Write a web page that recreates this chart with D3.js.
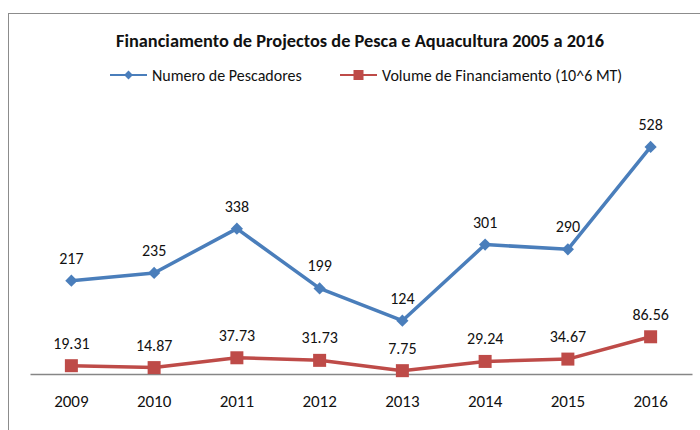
<!DOCTYPE html>
<html>
<head>
<meta charset="utf-8">
<script src="https://cdn.jsdelivr.net/npm/d3@7"></script>
<style>
  body { margin: 0; background: #fff; }
  text { font-family: Carlito, Calibri, "Open Sans", sans-serif; }
</style>
</head>
<body>
<div id="chart"></div>
<script>
var years = ["2009", "2010", "2011", "2012", "2013", "2014", "2015", "2016"];
var pescadores = [217, 235, 338, 199, 124, 301, 290, 528];
var financiamento = [19.31, 14.87, 37.73, 31.73, 7.75, 29.24, 34.67, 86.56];
var seriesNames = ["Numero de Pescadores", "Volume de Financiamento (10^6 MT)"];

var width = 700, height = 430;
var margin = {top: 116, right: 8, bottom: 56, left: 30};

var svg = d3.select("#chart").append("svg")
    .attr("width", width)
    .attr("height", height);

// outer frame
svg.append("rect")
    .attr("x", 8.5).attr("y", 13.5)
    .attr("width", 720).attr("height", 450)
    .attr("fill", "none")
    .attr("stroke", "#8c8c8c")
    .attr("stroke-width", 1);

var x = d3.scaleBand().domain(years).range([margin.left, width - margin.right]),
    y = d3.scaleLinear().domain([0, 600]).range([height - margin.bottom, margin.top]);

var cx = function (d, i) { return x(years[i]) + x.bandwidth() / 2; };

svg.append("text")
    .attr("x", 360).attr("y", 47)
    .attr("text-anchor", "middle")
    .attr("textLength", 488)
    .attr("lengthAdjust", "spacingAndGlyphs")
    .style("font-size", "19px")
    .style("font-weight", "bold")
    .attr("fill", "#111")
    .text("Financiamento de Projectos de Pesca e Aquacultura 2005  a 2016");

// axis
var xAxis = svg.append("g")
    .attr("transform", "translate(0," + y(0) + ")")
    .call(d3.axisBottom(x).tickSize(0).tickPadding(21));
xAxis.select(".domain").attr("stroke", "#868686").attr("stroke-width", 1.5);
xAxis.selectAll("text")
    .style("font-size", "17px")
    .style("font-family", "Carlito, Calibri, 'Open Sans', sans-serif")
    .attr("fill", "#111");

var series = [
    {name: seriesNames[0], values: pescadores, color: "#4a7ebb", marker: "diamond", fmt: d3.format("d")},
    {name: seriesNames[1], values: financiamento, color: "#be4b48", marker: "square", fmt: d3.format(".2f")}
];

var line = d3.line()
    .x(cx)
    .y(function (d) { return y(d); });

function marker(g, s, px, py) {
    if (s.marker === "diamond") {
        g.append("path")
            .attr("d", d3.symbol().type(d3.symbolDiamond2).size(95)())
            .attr("transform", "translate(" + px + "," + py + ")")
            .attr("fill", s.color);
    } else {
        g.append("rect")
            .attr("x", px - 6.5).attr("y", py - 6.5)
            .attr("width", 13).attr("height", 13)
            .attr("fill", s.color);
    }
}

series.forEach(function (s) {
    var g = svg.append("g");
    g.append("path")
        .datum(s.values)
        .attr("d", line)
        .attr("fill", "none")
        .attr("stroke", s.color)
        .attr("stroke-width", 3.5)
        .attr("stroke-linejoin", "round");
    s.values.forEach(function (v, i) {
        marker(g, s, cx(v, i), y(v));
    });
    g.selectAll(".lbl")
        .data(s.values)
        .enter().append("text")
        .attr("x", cx)
        .attr("y", function (d) { return y(d) - 17; })
        .attr("text-anchor", "middle")
        .style("font-size", "16px")
        .attr("fill", "#111")
        .text(s.fmt);
});

// legend
var legX = [110, 340];
series.forEach(function (s, i) {
    var lg = svg.append("g").attr("transform", "translate(" + legX[i] + ",75)");
    lg.append("line")
        .attr("x1", 0).attr("x2", 37)
        .attr("stroke", s.color).attr("stroke-width", 2);
    if (s.marker === "diamond") {
        lg.append("path")
            .attr("d", d3.symbol().type(d3.symbolDiamond2).size(50)())
            .attr("transform", "translate(18.5,0)")
            .attr("fill", s.color);
    } else {
        lg.append("rect")
            .attr("x", 13.5).attr("y", -5).attr("width", 10).attr("height", 10)
            .attr("fill", s.color);
    }
    lg.append("text")
        .attr("x", 42).attr("y", 5.5)
        .style("font-size", "16px")
        .attr("fill", "#111")
        .text(s.name);
});
</script>
</body>
</html>
